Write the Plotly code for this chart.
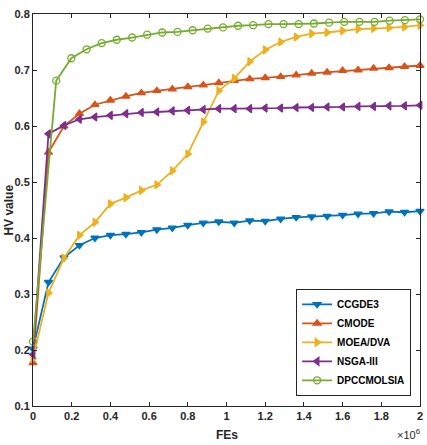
import plotly.graph_objects as go

# FEs in units of 1e6
fes_grid = [0, 0.08, 0.16, 0.24, 0.32, 0.40, 0.48, 0.56, 0.64, 0.72, 0.80, 0.88, 0.96,
            1.04, 1.12, 1.20, 1.28, 1.36, 1.44, 1.52, 1.60, 1.68, 1.76, 1.84, 1.92, 2.00]
fes_grid_dpcc = [0, 0.12, 0.198, 0.277, 0.355, 0.433, 0.512, 0.590, 0.668, 0.747, 0.825,
                 0.903, 0.982, 1.060, 1.138, 1.217, 1.295, 1.373, 1.452, 1.530, 1.608,
                 1.687, 1.765, 1.843, 1.922, 2.000]

ccgde3 = [0.202, 0.321, 0.365, 0.387, 0.400, 0.405, 0.407, 0.410, 0.415, 0.418, 0.423,
          0.427, 0.429, 0.427, 0.431, 0.430, 0.434, 0.437, 0.438, 0.439, 0.441, 0.443,
          0.444, 0.447, 0.446, 0.448]
cmode = [0.177, 0.553, 0.600, 0.622, 0.638, 0.646, 0.653, 0.659, 0.663, 0.666, 0.670,
         0.673, 0.677, 0.681, 0.684, 0.686, 0.688, 0.691, 0.694, 0.696, 0.699, 0.700,
         0.703, 0.704, 0.706, 0.708]
moeadva = [0.185, 0.302, 0.364, 0.405, 0.428, 0.461, 0.472, 0.485, 0.495, 0.520, 0.550,
           0.607, 0.663, 0.685, 0.715, 0.736, 0.750, 0.759, 0.765, 0.767, 0.770, 0.773,
           0.774, 0.7755, 0.777, 0.780]
nsga3 = [0.192, 0.586, 0.601, 0.612, 0.616, 0.619, 0.622, 0.624, 0.625, 0.627, 0.628,
         0.6295, 0.631, 0.631, 0.631, 0.632, 0.632, 0.633, 0.633, 0.634, 0.634, 0.635,
         0.635, 0.636, 0.636, 0.637]
dpccmolsia = [0.215, 0.681, 0.721, 0.737, 0.748, 0.754, 0.758, 0.763, 0.767, 0.768, 0.771,
              0.774, 0.776, 0.779, 0.780, 0.782, 0.782, 0.782, 0.783, 0.7845, 0.786, 0.786,
              0.786, 0.788, 0.789, 0.7905]

x_ticks = [0, 0.2, 0.4, 0.6, 0.8, 1, 1.2, 1.4, 1.6, 1.8, 2]
y_ticks = [0.1, 0.2, 0.3, 0.4, 0.5, 0.6, 0.7, 0.8]

series = [
    ("CCGDE3", fes_grid, ccgde3, "#0072BD", "triangle-down"),
    ("CMODE", fes_grid, cmode, "#D95319", "triangle-up"),
    ("MOEA/DVA", fes_grid, moeadva, "#EDB120", "triangle-right"),
    ("NSGA-III", fes_grid, nsga3, "#7E2F8E", "triangle-left"),
    ("DPCCMOLSIA", fes_grid_dpcc, dpccmolsia, "#77AC30", "circle-open"),
]

fig = go.Figure()
for name, xs, ys, color, sym in series:
    fig.add_trace(go.Scatter(
        x=xs, y=ys, name=name, mode="lines+markers",
        line=dict(color=color, width=1.8),
        marker=dict(symbol=sym, size=7, color=color,
                    line=dict(color=color, width=1.3)),
        cliponaxis=False,
    ))

font_main = "Liberation Sans, Arial, sans-serif"
axis_color = "#262626"

fig.update_layout(
    width=427, height=445,
    margin=dict(l=33, r=7, t=14, b=39),
    plot_bgcolor="white", paper_bgcolor="white",
    font=dict(family=font_main, color=axis_color),
    showlegend=True,
    legend=dict(
        x=0.977, y=0.026, xanchor="right", yanchor="bottom",
        bgcolor="white", bordercolor=axis_color, borderwidth=1,
        font=dict(family=font_main, size=10, color="#000000", weight="bold"),
        tracegroupgap=0, itemwidth=30,
    ),
)
fig.update_xaxes(
    range=[0, 2], tickvals=x_ticks, ticktext=[f"{v:g}" for v in x_ticks],
    showgrid=False, zeroline=False, automargin=False,
    showline=True, linecolor=axis_color, linewidth=1, mirror="ticks",
    ticks="inside", ticklen=4, tickcolor=axis_color,
    tickfont=dict(size=11, weight="bold", color=axis_color),
)
fig.update_yaxes(
    range=[0.1, 0.8], tickvals=y_ticks, ticktext=[f"{v:g}" for v in y_ticks],
    showgrid=False, zeroline=False, automargin=False,
    showline=True, linecolor=axis_color, linewidth=1, mirror="ticks",
    ticks="inside", ticklen=4, tickcolor=axis_color,
    tickfont=dict(size=11, weight="bold", color=axis_color),
)
# Axis titles
fig.add_annotation(
    xref="paper", yref="paper", x=0.5, y=-0.075, xanchor="center", yanchor="middle",
    text="<b>FEs</b>", showarrow=False,
    font=dict(family=font_main, size=12, color=axis_color),
)
fig.add_annotation(
    xref="paper", yref="paper", x=-0.063, y=0.5, xanchor="center", yanchor="middle",
    text="<b>HV value</b>", showarrow=False, textangle=-90,
    font=dict(family=font_main, size=12, color=axis_color),
)
fig.add_annotation(
    xref="paper", yref="paper", x=1.005, y=-0.072, xanchor="right", yanchor="middle",
    text="×10<sup>6</sup>", showarrow=False,
    font=dict(family=font_main, size=11, color=axis_color),
)

fig.write_html("out.html")
